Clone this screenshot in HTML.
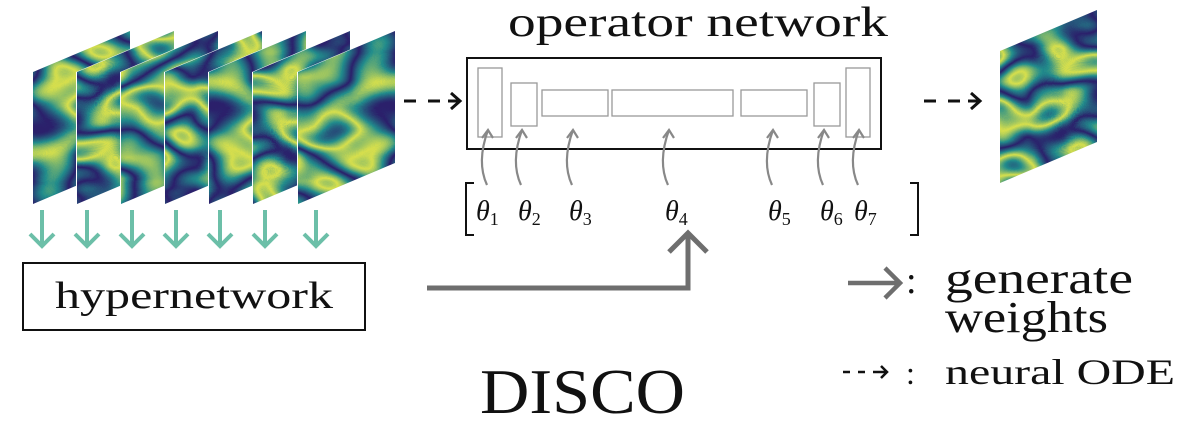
<!DOCTYPE html>
<html><head><meta charset="utf-8"><style>
html,body{margin:0;padding:0;background:#fff;}
svg{display:block;}
text{font-family:"Liberation Serif",serif;fill:#111;}
</style></head><body>
<svg width="1200" height="433" viewBox="0 0 1200 433" xmlns="http://www.w3.org/2000/svg">
<defs>
<filter id="f1" x="0" y="0" width="100%" height="100%" color-interpolation-filters="sRGB"><feTurbulence type="fractalNoise" baseFrequency="0.012 0.02" numOctaves="2" seed="3"/><feColorMatrix type="matrix" values="1 0 0 0 0 1 0 0 0 0 1 0 0 0 0 0 0 0 0 1"/><feComponentTransfer><feFuncR type="table" tableValues="0.17 0.17 0.13 0.85 0.13 0.17 0.13 0.85 0.13 0.17 0.17"/><feFuncG type="table" tableValues="0.12 0.12 0.55 0.88 0.55 0.12 0.55 0.88 0.55 0.12 0.12"/><feFuncB type="table" tableValues="0.42 0.42 0.55 0.3 0.55 0.42 0.55 0.3 0.55 0.42 0.42"/></feComponentTransfer></filter>
<filter id="f2" x="0" y="0" width="100%" height="100%" color-interpolation-filters="sRGB"><feTurbulence type="fractalNoise" baseFrequency="0.015 0.022" numOctaves="2" seed="11"/><feColorMatrix type="matrix" values="1 0 0 0 0 1 0 0 0 0 1 0 0 0 0 0 0 0 0 1"/><feComponentTransfer><feFuncR type="table" tableValues="0.17 0.17 0.13 0.85 0.13 0.17 0.13 0.85 0.13 0.17 0.17"/><feFuncG type="table" tableValues="0.12 0.12 0.55 0.88 0.55 0.12 0.55 0.88 0.55 0.12 0.12"/><feFuncB type="table" tableValues="0.42 0.42 0.55 0.3 0.55 0.42 0.55 0.3 0.55 0.42 0.42"/></feComponentTransfer></filter>
<clipPath id="pg"><polygon points="0,41 97,0 97,132 0,173"/></clipPath>
<g id="ca"><path d="M-1,55 C-8,40 -8,22 0,0"/><path d="M-6,8 L0,0 L5,8"/></g>
</defs>

<g clip-path="url(#pg)" transform="translate(33,31)"><rect width="97" height="173" filter="url(#f1)"/></g>
<g transform="translate(77,31)"><polygon points="-1,41 98,-1 98,133 -1,174" fill="#fff"/><g clip-path="url(#pg)"><rect width="97" height="173" filter="url(#f2)"/></g></g>
<g transform="translate(121,31)"><polygon points="-1,41 98,-1 98,133 -1,174" fill="#fff"/><g clip-path="url(#pg)"><rect width="97" height="173" filter="url(#f1)" transform="translate(97,0) scale(-1,1)"/></g></g>
<g transform="translate(165,31)"><polygon points="-1,41 98,-1 98,133 -1,174" fill="#fff"/><g clip-path="url(#pg)"><rect width="97" height="173" filter="url(#f2)" transform="translate(97,0) scale(-1,1)"/></g></g>
<g transform="translate(209,31)"><polygon points="-1,41 98,-1 98,133 -1,174" fill="#fff"/><g clip-path="url(#pg)"><rect width="97" height="173" filter="url(#f1)" transform="translate(0,173) scale(1,-1)"/></g></g>
<g transform="translate(253,31)"><polygon points="-1,41 98,-1 98,133 -1,174" fill="#fff"/><g clip-path="url(#pg)"><rect width="97" height="173" filter="url(#f2)" transform="translate(0,173) scale(1,-1)"/></g></g>
<g transform="translate(298,31)"><polygon points="-1,41 98,-1 98,133 -1,174" fill="#fff"/><g clip-path="url(#pg)"><rect width="97" height="173" filter="url(#f1)" transform="translate(97,173) scale(-1,-1)"/></g></g>

<g transform="translate(1000,10)"><g clip-path="url(#pg)"><rect width="97" height="173" filter="url(#f2)" transform="translate(97,173) scale(-1,-1)"/></g></g>

<g stroke="#6cbfa8" stroke-width="4" fill="none">
<path d="M42,210V246M30,234L42,246L54,234"/>
<path d="M87,210V246M75,234L87,246L99,234"/>
<path d="M132,210V246M120,234L132,246L144,234"/>
<path d="M176,210V246M164,234L176,246L188,234"/>
<path d="M220,210V246M208,234L220,246L232,234"/>
<path d="M265,210V246M253,234L265,246L277,234"/>
<path d="M316,210V246M304,234L316,246L328,234"/>
</g>

<rect x="23" y="263" width="342" height="67" fill="none" stroke="#111" stroke-width="2"/>
<text x="55" y="308" font-size="38" textLength="278" lengthAdjust="spacingAndGlyphs">hypernetwork</text>

<text x="508" y="36" font-size="42" textLength="380" lengthAdjust="spacingAndGlyphs">operator network</text>
<rect x="467" y="58" width="414" height="91" fill="none" stroke="#111" stroke-width="2"/>
<g fill="none" stroke="#999" stroke-width="1.3">
<rect x="478" y="68" width="24" height="69"/>
<rect x="511" y="83" width="26" height="43"/>
<rect x="542" y="90" width="66" height="26"/>
<rect x="612" y="90" width="121" height="26"/>
<rect x="741" y="90" width="66" height="26"/>
<rect x="814" y="83" width="26" height="43"/>
<rect x="846" y="68" width="24" height="69"/>
</g>
<g fill="none" stroke="#888" stroke-width="2.2">
<use href="#ca" x="488" y="130"/>
<use href="#ca" x="522" y="130"/>
<use href="#ca" x="573" y="130"/>
<use href="#ca" x="669" y="130"/>
<use href="#ca" x="773" y="130"/>
<use href="#ca" x="824" y="130"/>
<use href="#ca" x="859" y="130"/>
</g>
<path d="M474,183H466V235H474M910,183H918V235H910" fill="none" stroke="#111" stroke-width="2"/>
<g font-size="28" font-style="italic">
<text x="476" y="220">θ<tspan font-size="18" font-style="normal" dy="5">1</tspan></text>
<text x="518" y="220">θ<tspan font-size="18" font-style="normal" dy="5">2</tspan></text>
<text x="569" y="220">θ<tspan font-size="18" font-style="normal" dy="5">3</tspan></text>
<text x="665" y="220">θ<tspan font-size="18" font-style="normal" dy="5">4</tspan></text>
<text x="768" y="220">θ<tspan font-size="18" font-style="normal" dy="5">5</tspan></text>
<text x="820" y="220">θ<tspan font-size="18" font-style="normal" dy="5">6</tspan></text>
<text x="854" y="220">θ<tspan font-size="18" font-style="normal" dy="5">7</tspan></text>
</g>

<g stroke="#111" stroke-width="3" fill="none">
<path d="M404,101H416M428,101H440M448,101H460M451,93L460,101L451,109"/>
<path d="M924,101H936M948,101H960M968,101H980M971,93L980,101L971,109"/>
</g>

<g stroke="#6e6e6e" stroke-width="5" fill="none">
<path d="M427,288H688V233"/>
<path d="M669,252L688,233L707,252"/>
</g>

<g stroke="#6e6e6e" stroke-width="4.5" fill="none">
<path d="M848,283H898M885,268L900,283L885,298"/>
</g>
<text x="906" y="293" font-size="38">:</text>
<text x="945" y="293" font-size="44" textLength="188" lengthAdjust="spacingAndGlyphs">generate</text>
<text x="945" y="332" font-size="44" textLength="163" lengthAdjust="spacingAndGlyphs">weights</text>
<g stroke="#111" stroke-width="2.5" fill="none">
<path d="M843,372H850M858,372H865M873,372H886M881,366L887,372L881,378"/>
</g>
<text x="906" y="384" font-size="32">:</text>
<text x="945" y="384" font-size="36" textLength="230" lengthAdjust="spacingAndGlyphs">neural ODE</text>

<text x="480" y="413" font-size="64" textLength="205" lengthAdjust="spacingAndGlyphs">DISCO</text>
</svg>
</body></html>
